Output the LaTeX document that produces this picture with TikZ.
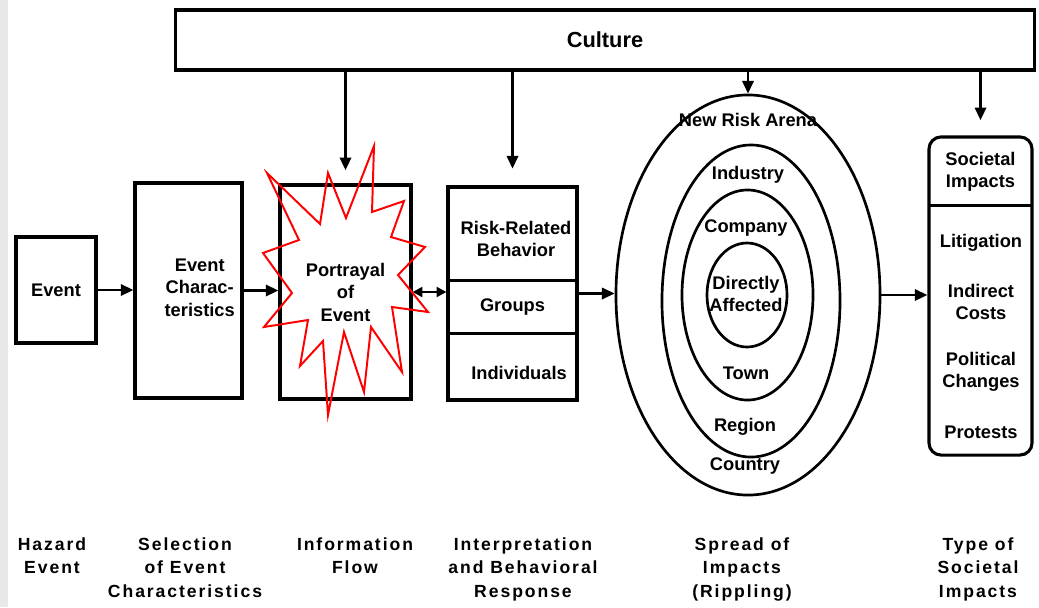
\documentclass[tikz,border=0pt]{standalone}
\usepackage{fontspec}
\setmainfont{Liberation Sans}
\newfontfamily\capfont{Liberation Sans}[LetterSpace=11]
\usepackage{tikz}
\usetikzlibrary{shapes,arrows.meta,positioning}

\begin{document}
\begin{tikzpicture}[
    x=0.025cm, y=-0.025cm,
    box/.style={draw, line width=2.2pt, inner sep=0pt, align=center, font=\fontsize{13}{16}\selectfont\bfseries},
    ring/.style={ellipse, draw, line width=1.9pt, inner sep=0pt},
    txt/.style={align=center, inner sep=0pt, font=\fontsize{13}{16}\selectfont\bfseries},
    stage/.style={align=center, anchor=north, inner sep=0pt, font=\capfont\fontsize{12.5}{17}\selectfont\bfseries},
    arr/.style={-{Triangle[length=9pt,width=8pt]}, line width=1.8pt},
    burst/.style={draw=red, line width=1.4pt, line join=miter}
]
    \useasboundingbox (0,0) rectangle (1039,607);
    \fill [gray!18] (0,0) rectangle (8,607);

    \node [box, minimum width=21.45cm, minimum height=1.5cm, font=\fontsize{15.5}{18}\selectfont\bfseries] (culture) at (605,40) {Culture};

    \node [box, minimum width=2cm, minimum height=2.65cm] (event) at (56,290) {Event};
    \node [box, minimum width=2.675cm, minimum height=5.375cm,
           label={[txt, xshift=0.28cm, yshift=0.07cm]center:Event\\Charac-\\teristics}] (chars) at (188.5,290.5) {};
    \node [box, minimum width=3.275cm, minimum height=5.35cm] (portrayal) at (345.5,292) {Portrayal\\of\\Event};

    % interpretation box
    \node [box, minimum width=3.225cm, minimum height=5.325cm] (risk) at (512.5,293.5) {};
    \node [txt] (riskbeh) at (516,239) {Risk-Related\\Behavior};
    \node [txt, minimum width=3.225cm, minimum height=1.3cm] (groups) at (512.5,307) {Groups};
    \node [txt] (indiv) at (519,373) {Individuals};
    \draw [line width=2.2pt] (groups.north west) -- (groups.north east) (groups.south west) -- (groups.south east);

    % ripples
    \node [ring, minimum width=6.6cm, minimum height=10cm] (arena) at (748,295) {};
    \node [ring, minimum width=4.45cm, minimum height=7.8cm] (industry) at (751,301) {};
    \node [ring, minimum width=3.275cm, minimum height=5.25cm] (company) at (747.5,295) {};
    \node [ring, minimum width=2cm, minimum height=2.6cm] (direct) at (747,295) {};
    \node [txt] (arenalbl) at (748,120) {New Risk Arena};
    \node [txt] (industrylbl) at (748,175) {Industry};
    \node [txt] (companylbl) at (746,228) {Company};
    \node [txt] (directlbl) at (746,294) {Directly\\Affected};
    \node [txt] (townlbl) at (746,373) {Town};
    \node [txt] (regionlbl) at (745,427) {Region};
    \node [txt] (countrylbl) at (745,466) {Country};

    % societal impacts
    \node [box, rounded corners=0.3cm, minimum width=2.575cm, minimum height=7.95cm] (impacts) at (980.5,296) {};
    \node [txt, minimum width=2.575cm, minimum height=1.65cm] (societal) at (980.5,172) {Societal\\Impacts};
    \draw [line width=2.2pt] (societal.south west) -- (societal.south east);
    \node [txt] (litig) at (981,243) {Litigation};
    \node [txt] (costs) at (981,302) {Indirect\\Costs};
    \node [txt] (polit) at (981,372) {Political\\Changes};
    \node [txt] (protest) at (981,432) {Protests};

    % stages
    \node [stage] (hazard) at (52,537) {Hazard\\Event};
    \node [stage] (selection) at (185,537) {Selection\\of Event\\Characteristics};
    \node [stage] (info) at (355,537) {Information\\Flow};
    \node [stage] (interp) at (523,537) {Interpretation\\and Behavioral\\Response};
    \node [stage] (spread) at (742,537) {Spread of\\Impacts\\(Rippling)};
    \node [stage] (type) at (978,537) {Type of\\Societal\\Impacts};

    % flow
    \draw [arr] (event.east) -- (event.east -| chars.west);
    \draw [arr] (chars.east) -- (chars.east -| portrayal.west);
    \draw [{Triangle[length=7pt,width=7pt]}-{Triangle[length=7pt,width=7pt]}, line width=1.8pt] (portrayal.east) -- (portrayal.east -| risk.west);
    \draw [arr] (risk.east) -- (risk.east -| arena.west);
    \draw [arr] (arena.east) -- (arena.east -| impacts.west);

    % culture
    \draw [arr, shorten >=0.33cm] (culture.south -| portrayal.north) -- (portrayal.north);
    \draw [arr, shorten >=0.42cm] (culture.south -| risk.north) -- (risk.north);
    \draw [arr] (culture.south -| arena.north) -- (arena.north);
    \draw [arr, shorten >=0.38cm] (culture.south -| impacts.north) -- (impacts.north);

    \draw [burst] (267,173) -- (320,224) -- (328,173) -- (346,218) -- (374,146) -- (372,212)
        -- (404,201) -- (391,237) -- (425,247) -- (398,275) -- (428,312) -- (392,307)
        -- (402,372) -- (371,327) -- (364,392) -- (344,332) -- (328,415) -- (323,341)
        -- (300,366) -- (308,320) -- (264,327) -- (292,293) -- (263,253) -- (299,240) -- cycle;
\end{tikzpicture}
\end{document}
